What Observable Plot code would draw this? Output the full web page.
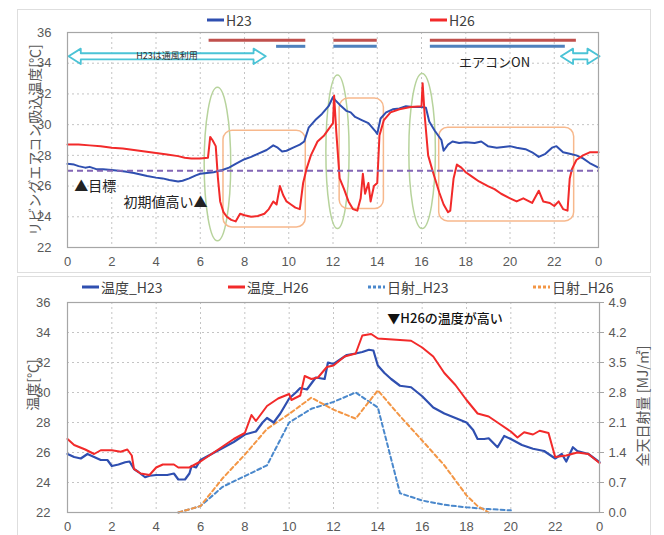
<!DOCTYPE html>
<html><head><meta charset="utf-8">
<script src="https://cdn.jsdelivr.net/npm/d3@7"></script>
<script src="https://cdn.jsdelivr.net/npm/@observablehq/plot@0.6"></script>
<style>
body{margin:0;background:#fff;}
#wrap{position:relative;width:664px;height:535px;overflow:hidden;font-family:"Noto Sans CJK JP","Liberation Sans",sans-serif;}
.panel{position:absolute;border:1px solid #dedede;box-sizing:border-box;background:#fff;}
.chart{position:absolute;}
.lg{position:absolute;display:flex;align-items:center;font-size:14px;color:#404040;white-space:nowrap;line-height:1;}
.lg svg{margin-right:2px;}
.vlab{position:absolute;white-space:nowrap;font-size:14px;color:#595959;transform:translate(-50%,-50%) rotate(-90deg);line-height:1;}
</style></head>
<body><div id="wrap"></div>
<script>
// ---------- data ----------
const xTicks = [0,2,4,6,8,10,12,14,16,18,20,22,24];
const yTicks = [22,24,26,28,30,32,34,36];
const targetTemp = [27];

// top panel: リビングエアコン吸込温度 (hour, °C)
const topH23 = [[0,27.45],[0.3,27.4],[0.5,27.3],[0.8,27.2],[1,27.25],[1.3,27.1],[1.6,27.1],[2,27.05],[2.3,27.0],[2.6,26.95],[3,26.85],[3.3,26.75],[3.6,26.65],[4,26.55],[4.3,26.5],[4.6,26.4],[5,26.3],[5.2,26.35],[5.5,26.5],[5.8,26.7],[6,26.8],[6.3,26.85],[6.6,26.9],[7,27.05],[7.3,27.2],[7.6,27.45],[8,27.75],[8.3,27.9],[8.6,28.1],[9,28.35],[9.3,28.65],[9.5,28.5],[9.7,28.25],[9.9,28.3],[10.2,28.5],[10.5,28.7],[10.7,28.9],[10.9,29.8],[11.2,30.3],[11.5,30.7],[11.8,31.2],[12.0,31.8],[12.1,31.6],[12.3,31.3],[12.6,30.9],[12.8,30.8],[13.0,30.5],[13.3,30.3],[13.6,30.1],[13.9,29.6],[14.0,29.4],[14.15,30.4],[14.4,30.8],[14.7,31.0],[15.0,31.05],[15.3,31.2],[15.6,31.15],[16.0,31.15],[16.2,31.1],[16.35,30.2],[16.6,29.6],[16.9,29.0],[17.0,28.3],[17.2,28.7],[17.4,28.9],[17.7,28.8],[18,28.85],[18.4,28.8],[18.7,28.9],[19,28.6],[19.4,28.5],[19.7,28.55],[20,28.6],[20.3,28.5],[20.7,28.4],[21,28.2],[21.3,27.9],[21.6,28.1],[21.9,28.5],[22.1,28.6],[22.4,28.2],[22.7,28.1],[23,28.0],[23.3,27.8],[23.6,27.5],[24,27.2]];
const topH26 = [[0,28.7],[0.5,28.7],[1,28.65],[1.5,28.6],[2,28.5],[2.5,28.45],[3,28.35],[3.5,28.25],[4,28.15],[4.5,28.05],[5,27.95],[5.3,27.85],[5.6,27.8],[6,27.8],[6.35,27.85],[6.45,29.2],[6.55,29.0],[6.7,28.6],[6.8,26.5],[6.9,25.0],[7.05,24.3],[7.2,24.0],[7.4,23.8],[7.6,23.7],[7.8,24.2],[8,24.1],[8.3,24.0],[8.6,24.05],[8.9,24.2],[9.1,24.5],[9.3,25.0],[9.45,24.8],[9.6,26.0],[9.75,25.4],[9.9,25.0],[10.1,24.8],[10.3,24.6],[10.5,24.5],[10.65,26.2],[10.8,27.1],[11,28.0],[11.3,28.9],[11.6,29.3],[11.9,29.9],[12.0,30.1],[12.05,31.9],[12.15,29.5],[12.3,26.5],[12.5,25.8],[12.7,25.0],[12.9,24.5],[13.1,24.4],[13.25,25.2],[13.35,26.8],[13.45,25.5],[13.6,26.2],[13.7,25.0],[13.85,26.0],[14.0,26.2],[14.1,29.3],[14.3,30.3],[14.6,30.8],[15,31.0],[15.5,31.15],[16,31.2],[16.05,32.7],[16.15,30.5],[16.3,28.0],[16.5,27.0],[16.8,25.6],[17.0,24.8],[17.2,24.3],[17.3,24.4],[17.45,26.5],[17.6,27.4],[17.8,27.2],[18.0,26.9],[18.3,26.6],[18.6,26.3],[19,26.0],[19.3,25.8],[19.6,25.5],[20,25.2],[20.3,25.0],[20.6,25.2],[21,24.9],[21.3,25.7],[21.5,25.0],[21.8,24.9],[22,24.7],[22.2,25.0],[22.4,24.5],[22.6,24.4],[22.7,26.5],[22.8,27.1],[23,27.7],[23.3,28.0],[23.6,28.2],[24,28.2]];

// bottom panel: 温度 (hour, °C)
const tempH23 = [[0,25.9],[0.3,25.7],[0.6,25.6],[0.9,25.9],[1.2,25.7],[1.5,25.5],[1.8,25.5],[2,25.1],[2.3,25.2],[2.6,25.35],[2.8,25.4],[3.0,24.9],[3.2,24.7],[3.5,24.35],[3.7,24.45],[4,24.5],[4.5,24.5],[4.8,24.6],[5.0,24.2],[5.3,24.2],[5.5,24.6],[5.6,25.1],[5.8,25.0],[6,25.5],[6.5,25.9],[7,26.3],[7.5,26.7],[8,27.2],[8.5,27.4],[8.8,28.0],[9,28.3],[9.3,28.0],[9.6,28.6],[10,29.6],[10.3,30.0],[10.5,30.3],[10.8,30.2],[11.2,31.0],[11.6,30.9],[11.75,32.0],[12,31.9],[12.3,32.2],[12.6,32.5],[13,32.6],[13.3,32.7],[13.6,32.85],[13.8,32.8],[14,31.8],[14.3,31.3],[14.6,30.9],[15,30.45],[15.5,30.35],[16,29.75],[16.5,29.0],[17,28.6],[17.5,28.3],[18,28.0],[18.3,27.5],[18.5,26.9],[18.8,26.9],[19,26.95],[19.4,26.35],[19.7,27.1],[20,26.9],[20.5,26.5],[21,26.25],[21.5,26.1],[22,25.6],[22.3,25.9],[22.5,25.4],[22.8,26.35],[23,26.1],[23.5,25.9],[24,25.35]];
const tempH26 = [[0,26.9],[0.3,26.5],[0.8,26.2],[1.2,25.9],[1.5,26.15],[2,26.15],[2.4,26.05],[2.7,26.2],[2.9,25.8],[3.0,24.9],[3.3,24.6],[3.7,24.5],[4,25.0],[4.3,25.2],[4.8,25.2],[5,25.0],[5.5,25.0],[6,25.4],[6.5,25.9],[7,26.4],[7.5,26.9],[8,27.3],[8.3,28.5],[8.5,28.1],[9,29.1],[9.5,29.6],[10,29.9],[10.1,29.5],[10.5,29.8],[10.7,31.1],[11,30.9],[11.3,31.0],[11.7,31.7],[12,31.8],[12.5,32.4],[13,32.6],[13.3,33.8],[13.7,33.9],[14,33.6],[14.5,33.55],[15,33.5],[15.5,33.45],[16,33.0],[16.5,32.4],[17,31.3],[17.5,30.5],[18,29.5],[18.5,28.6],[19,28.4],[19.5,27.9],[20,27.4],[20.3,27.0],[20.6,27.35],[21,27.2],[21.3,27.45],[21.7,27.3],[22,25.7],[22.5,25.8],[23,26.0],[23.5,25.9],[24,25.3]];

// bottom panel: 日射 (hour, MJ/㎡)
const solarH23 = [[5,0.0],[6,0.15],[7,0.6],[8,0.85],[9,1.1],[10,2.1],[11,2.42],[12,2.58],[13,2.8],[14,2.45],[14.5,1.45],[15,0.45],[16,0.28],[17,0.18],[18,0.12],[19,0.08],[20,0.05]];
const solarH26 = [[5,0.0],[6,0.15],[7,0.8],[8,1.35],[9,1.95],[10,2.3],[11,2.68],[12,2.4],[13,2.19],[14,2.85],[15,2.25],[16,1.68],[17,1.1],[18,0.4],[18.5,0.15],[19,0.0]];
const solarMax = 4.9;   // right axis 0.0–4.9 matches 22–36 °C

// top annotations
const onH26 = [[6.4,10.77],[12.04,14.0],[16.4,23.0]];   // エアコンON periods (red bars)
const onH23 = [[9.45,10.77],[12.04,14.0],[16.4,22.5]];  // (blue bars)
const ellipses = [{x1:6.2,x2:7.4,y1:22.4,y2:32.4},{x1:11.7,x2:12.75,y1:23.2,y2:33.2},{x1:15.45,x2:16.65,y1:23.2,y2:33.3}];
const boxes = [{x1:7.05,x2:10.77,y1:23.3,y2:29.6},{x1:12.3,x2:14.3,y1:24.5,y2:31.7},{x1:16.8,x2:22.9,y1:23.7,y2:29.8}];
const arrows = [{x1:0.05,x2:8.96,y:34.45},{x1:22.3,x2:24.05,y:34.45}];
const notesLeft = [{x:0.3,y:25.95,t:"▲目標",s:14},{x:17.7,y:34.05,t:"エアコンON",s:13}];
const notesRight = [{x:6.33,y:24.9,t:"初期値高い▲",s:14}];
const notesMid = [{x:4.5,y:34.45,t:"H23は通風利用",s:9}];
const notesBottom = [{x:14.43,y:34.93,t:"▼H26の温度が高い"}];

// ---------- colors ----------
const C = {h23:"#2f4fb0", h26:"#f22a2a", s23:"#4a88cc", s26:"#f39645", grid:"#c4c4c4", frame:"#a6a6a6",
  bar26:"#c0504d", bar23:"#4f81bd", cyan:"#4bc3d6", green:"#b7d39c", orange:"#f7b88c", purple:"#8366b5"};

const X = d => d[0], Y = d => d[1];
const fmtX = d => d === 24 ? "0" : String(d);
const jp = "Noto Sans CJK JP, sans-serif";

function arrowPoly(a){
  const hl = 0.55, hh = 0.5, sh = 0.2;
  return [[a.x1,a.y],[a.x1+hl,a.y+hh],[a.x1+hl,a.y+sh],[a.x2-hl,a.y+sh],[a.x2-hl,a.y+hh],[a.x2,a.y],
          [a.x2-hl,a.y-hh],[a.x2-hl,a.y-sh],[a.x1+hl,a.y-sh],[a.x1+hl,a.y-hh],[a.x1,a.y]];
}

const baseStyle = {fontFamily:"Liberation Sans, sans-serif", fontSize:"13px", color:"#595959", background:"transparent", overflow:"visible"};

const topChart = Plot.plot({
  width:633, height:263, marginLeft:50, marginRight:52, marginTop:23, marginBottom:25,
  style: baseStyle,
  x:{domain:[0,24], ticks:xTicks, tickFormat:fmtX, tickSize:0, tickPadding:9, label:null},
  y:{domain:[22,36], ticks:yTicks, tickSize:0, tickPadding:16, label:null},
  marks:[
    Plot.ruleX(xTicks.slice(1,-1), {stroke:C.grid, strokeDasharray:"2,3"}),
    Plot.ruleY(yTicks.slice(1,-1), {stroke:C.grid, strokeDasharray:"2,3"}),
    Plot.rect(ellipses, {x1:"x1", x2:"x2", y1:"y1", y2:"y2", rx:300, ry:300, fill:"none", stroke:C.green, strokeWidth:1.5}),
    Plot.rect(boxes, {x1:"x1", x2:"x2", y1:"y1", y2:"y2", rx:9, ry:9, fill:"none", stroke:C.orange, strokeWidth:1.5}),
    Plot.line(topH23, {x:X, y:Y, stroke:C.h23, strokeWidth:2}),
    Plot.line(topH26, {x:X, y:Y, stroke:C.h26, strokeWidth:2}),
    Plot.ruleY(targetTemp, {stroke:C.purple, strokeWidth:2, strokeDasharray:"6,4"}),
    Plot.ruleY(onH26, {x1:d=>d[0], x2:d=>d[1], y:35.5, stroke:C.bar26, strokeWidth:3}),
    Plot.ruleY(onH23, {x1:d=>d[0], x2:d=>d[1], y:35.1, stroke:C.bar23, strokeWidth:3}),
    ...arrows.map(a => Plot.line(arrowPoly(a), {x:X, y:Y, stroke:C.cyan, fill:"white", strokeWidth:1.8})),
    Plot.text(notesMid, {x:"x", y:"y", text:"t", fontSize:9, fill:"#333", fontFamily:jp}),
    Plot.text(notesLeft, {x:"x", y:"y", text:"t", fontSize:d=>d.s, fill:"#222", textAnchor:"start", fontFamily:jp}),
    Plot.text(notesRight, {x:"x", y:"y", text:"t", fontSize:d=>d.s, fill:"#222", textAnchor:"end", fontFamily:jp}),
    Plot.frame({stroke:C.frame, strokeWidth:1.2})
  ]
});

const toC = v => 22 + v * 14 / solarMax;
const botChart = Plot.plot({
  width:633, height:259, marginLeft:50, marginRight:51, marginTop:26, marginBottom:23,
  style: baseStyle,
  x:{domain:[0,24], ticks:xTicks, tickFormat:fmtX, tickSize:0, tickPadding:9, label:null},
  y:{domain:[22,36], label:null},
  marks:[
    Plot.ruleX(xTicks.slice(1,-1), {stroke:C.grid, strokeDasharray:"2,3"}),
    Plot.ruleY(yTicks.slice(1,-1), {stroke:C.grid, strokeDasharray:"2,3"}),
    Plot.axisY({anchor:"left", ticks:yTicks, tickSize:0, tickPadding:17, label:null}),
    Plot.axisY({anchor:"right", ticks:yTicks, tickSize:4, tickPadding:5, label:null, stroke:C.frame,
      tickFormat: t => ((t-22) * solarMax / 14).toFixed(1)}),
    Plot.line(solarH23, {x:X, y:d=>toC(d[1]), stroke:C.s23, strokeWidth:2, strokeDasharray:"4,3"}),
    Plot.line(solarH26, {x:X, y:d=>toC(d[1]), stroke:C.s26, strokeWidth:2, strokeDasharray:"4,3"}),
    Plot.line(tempH23, {x:X, y:Y, stroke:C.h23, strokeWidth:2.2}),
    Plot.line(tempH26, {x:X, y:Y, stroke:C.h26, strokeWidth:2}),
    Plot.text(notesBottom, {x:"x", y:"y", text:"t", fontSize:13, fill:"#111", fontWeight:500, textAnchor:"start", fontFamily:jp}),
    Plot.frame({stroke:C.frame, strokeWidth:1.2})
  ]
});

const wrap = document.getElementById("wrap");
function addPanel(l,t,w,h){const d=document.createElement("div");d.className="panel";Object.assign(d.style,{left:l+"px",top:t+"px",width:w+"px",height:h+"px"});wrap.appendChild(d);}
addPanel(17,9,634,264);
addPanel(17,276,634,262);
function place(el,l,t){el.classList.add("chart");el.style.left=l+"px";el.style.top=t+"px";wrap.appendChild(el);}
place(topChart,17,9);
place(botChart,17,276);

const legends = [
  {t:"H23", c:C.h23, dash:null, x:207, y:20},
  {t:"H26", c:C.h26, dash:null, x:430, y:20},
  {t:"温度_H23", c:C.h23, dash:null, x:82, y:287},
  {t:"温度_H26", c:C.h26, dash:null, x:228, y:287},
  {t:"日射_H23", c:C.s23, dash:"3,2", x:368, y:287},
  {t:"日射_H26", c:C.s26, dash:"3,2", x:533, y:287}
];
legends.forEach(g=>{
  const d=document.createElement("div");d.className="lg";
  d.style.left=g.x+"px";d.style.top=(g.y-8)+"px";
  d.innerHTML=`<svg width="17" height="16"><line x1="0" x2="17" y1="8" y2="8" stroke="${g.c}" stroke-width="3" ${g.dash?`stroke-dasharray="${g.dash}"`:""}/></svg><span>${g.t}</span>`;
  wrap.appendChild(d);
});
const vlabs = [
  {t:"リビングエアコン吸込温度[℃]", x:34, y:140},
  {t:"温度[℃]", x:32, y:385},
  {t:"全天日射量 [MJ/㎡]", x:642, y:406}
];
vlabs.forEach(v=>{const d=document.createElement("div");d.className="vlab";d.textContent=v.t;d.style.left=v.x+"px";d.style.top=v.y+"px";wrap.appendChild(d);});
</script>
</body></html>
